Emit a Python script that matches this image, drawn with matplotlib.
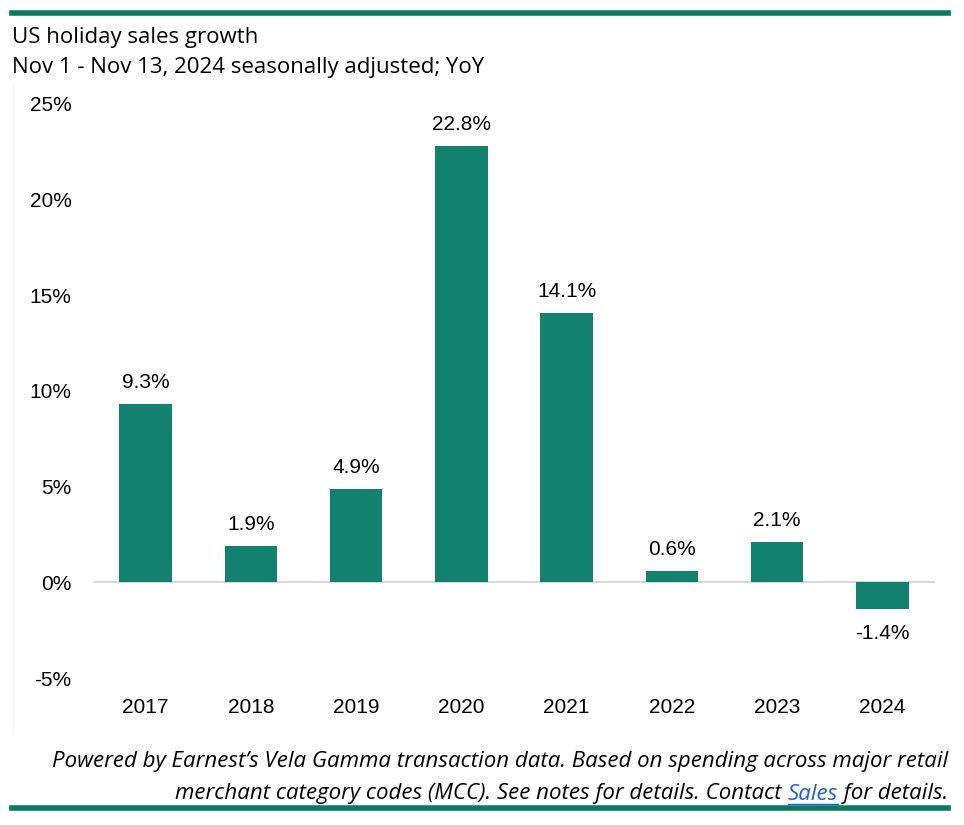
import matplotlib
matplotlib.use("Agg")
import matplotlib.pyplot as plt
from matplotlib.lines import Line2D

# data
years = ["2017", "2018", "2019", "2020", "2021", "2022", "2023", "2024"]
growth = [9.3, 1.9, 4.9, 22.8, 14.1, 0.6, 2.1, -1.4]
yticks = [-5, 0, 5, 10, 15, 20, 25]

title = "US holiday sales growth"
subtitle = "Nov 1 - Nov 13, 2024 seasonally adjusted; YoY"
note1 = "Powered by Earnest\u2019s Vela Gamma transaction data. Based on spending across major retail"
note2a = "merchant category codes (MCC). See notes for details. Contact "
note2b = "Sales"
note2c = " for details."

bar_color = "#12826f"
rule_color = "#0b7a63"
num_font = "Liberation Sans"
W, H = 964, 825

fig = plt.figure(figsize=(W / 100, H / 100), dpi=100)
ax = fig.add_axes([93 / W, 1 - 678 / H, (935 - 93) / W, (678 - 104) / H])

x = range(len(years))
ax.bar(x, growth, width=0.5, color=bar_color, zorder=3)
ax.axhline(0, color="#d9d9d9", lw=1.5, zorder=2)

for i, v in enumerate(growth):
    off = 15.5 if v >= 0 else -17.5
    ax.annotate(f"{v:.1f}%", (i, v), xytext=(0, off), textcoords="offset points",
                ha="center", va="center", fontsize=15, family=num_font)

ax.set_xlim(-0.5, len(years) - 0.5)
ax.set_ylim(-5, 25)
ax.set_yticks(yticks)
ax.set_yticklabels([f"{t}%" for t in yticks], family=num_font, fontsize=15)
ax.set_xticks(list(x))
ax.set_xticklabels(years, family=num_font, fontsize=15)
ax.tick_params(length=0)
ax.tick_params(axis="y", pad=15.5)
ax.tick_params(axis="x", pad=14.5)
for s in ax.spines.values():
    s.set_visible(False)

# rules and border
fig.add_artist(Line2D([12 / W, 948 / W], [1 - 13 / H] * 2, color=rule_color, lw=4))
fig.add_artist(Line2D([12 / W, 948 / W], [1 - 808 / H] * 2, color=rule_color, lw=4))
fig.add_artist(Line2D([13 / W] * 2, [1 - 82 / H, 1 - 734 / H], color="#f2f2f2", lw=1))

fig.text(12 / W, 1 - 37.5 / H, title, fontsize=16, family="Open Sans", va="center", ha="left")
fig.text(12 / W, 1 - 67.5 / H, subtitle, fontsize=16, family="Open Sans", va="center", ha="left")

fs = 16
fig.text(948 / W, 1 - 762 / H, note1, fontsize=fs, family="Open Sans", style="italic",
         va="center", ha="right")

# second footer line with the blue link word
r = fig.canvas.get_renderer()
y2 = 1 - 794 / H
t3 = fig.text(948 / W, y2, note2c, fontsize=fs, family="Open Sans", style="italic",
              va="center", ha="right")
x3 = t3.get_window_extent(r).x0 / W
t2 = fig.text(x3, y2, note2b, fontsize=fs, family="Open Sans", style="italic",
              va="center", ha="right", color="#1f5fd6")
bb = t2.get_window_extent(r)
fig.add_artist(Line2D([bb.x0 / W, bb.x1 / W], [(bb.y0 + 1) / H] * 2, color="#1f5fd6", lw=1))
fig.text(bb.x0 / W, y2, note2a, fontsize=fs, family="Open Sans", style="italic",
         va="center", ha="right")

fig.savefig("out.png", dpi=100)
